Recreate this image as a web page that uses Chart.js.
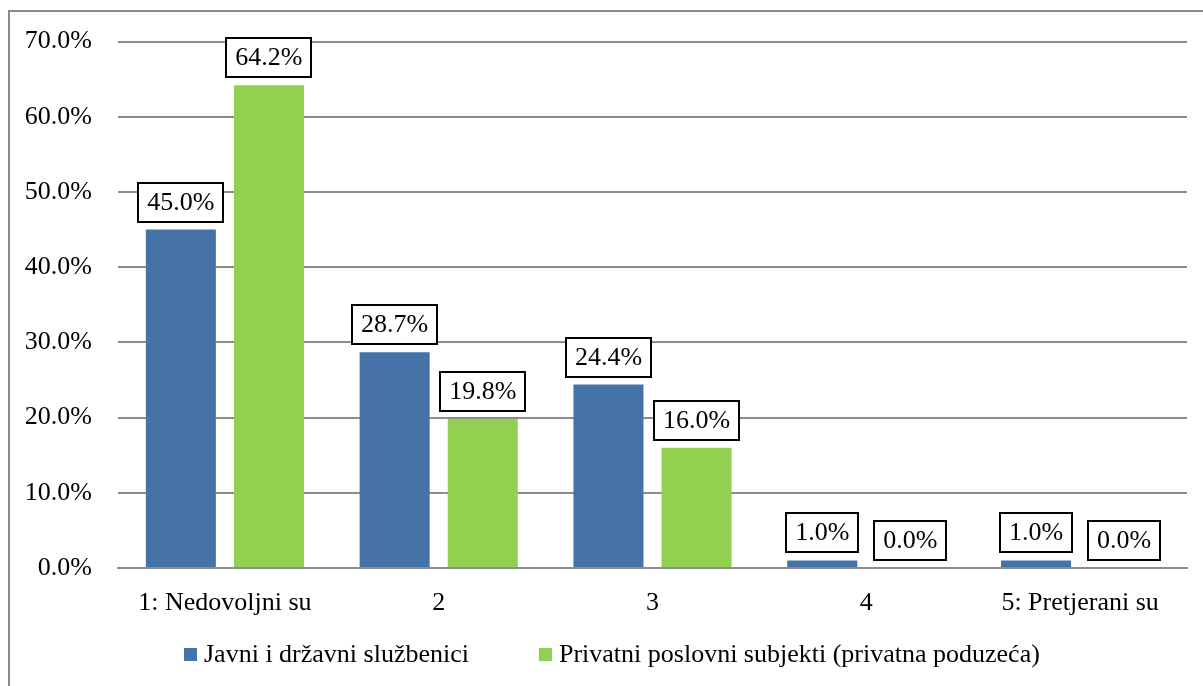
<!DOCTYPE html>
<html>
<head>
<meta charset="utf-8">
<script src="https://cdn.jsdelivr.net/npm/chart.js@4/dist/chart.umd.min.js"></script>
<style>
  html, body { margin: 0; padding: 0; background: #fff; }
  canvas { display: block; }
</style>
</head>
<body>
<canvas id="ocjene" width="1203" height="686"></canvas>
<script>
const categories = ['1: Nedovoljni su', '2', '3', '4', '5: Pretjerani su'];
const seriesNames = ['Javni i državni službenici', 'Privatni poslovni subjekti (privatna poduzeća)'];
const javni = [45.0, 28.7, 24.4, 1.0, 1.0];
const privatni = [64.2, 19.8, 16.0, 0.0, 0.0];
const yTicks = [0, 10, 20, 30, 40, 50, 60, 70];

const FONT = '"Liberation Serif", "Times New Roman", serif';
const FONT_SIZE = 26;
const GRID = '#8c8c8c';

// grey frame around the whole chart (left and top edges)
const frame = {
  id: 'frame',
  beforeDraw(chart) {
    const ctx = chart.ctx;
    ctx.save();
    ctx.strokeStyle = GRID;
    ctx.lineWidth = 2;
    ctx.beginPath();
    ctx.moveTo(9, chart.height + 5);
    ctx.lineTo(9, 11);
    ctx.lineTo(chart.width + 5, 11);
    ctx.stroke();
    ctx.restore();
  }
};

// boxed value label above every bar
const valueBoxes = {
  id: 'valueBoxes',
  afterDatasetsDraw(chart) {
    const ctx = chart.ctx;
    ctx.save();
    ctx.font = FONT_SIZE + 'px ' + FONT;
    ctx.textAlign = 'center';
    ctx.textBaseline = 'middle';
    chart.data.datasets.forEach((ds, di) => {
      chart.getDatasetMeta(di).data.forEach((bar, i) => {
        const text = ds.data[i].toFixed(1) + '%';
        const w = Math.round(ctx.measureText(text).width + 18);
        const h = 39;
        const bottom = Math.round(bar.y - 8);
        const left = Math.round(bar.x - w / 2);
        ctx.fillStyle = '#fff';
        ctx.fillRect(left, bottom - h, w, h);
        ctx.lineWidth = 2;
        ctx.strokeStyle = '#000';
        ctx.strokeRect(left, bottom - h, w, h);
        ctx.fillStyle = '#000';
        ctx.fillText(text, bar.x, bottom - h / 2 + 1);
      });
    });
    ctx.restore();
  }
};

// single-row legend under the axis, spaced wider than the built-in one allows
const legendRow = {
  id: 'legendRow',
  afterDraw(chart) {
    const ctx = chart.ctx;
    const box = 13, textGap = 7, itemGap = 70;
    ctx.save();
    ctx.font = FONT_SIZE + 'px ' + FONT;
    ctx.textBaseline = 'middle';
    const cy = chart.chartArea.bottom + 86;
    let x = chart.chartArea.left + 66;
    chart.data.datasets.forEach(ds => {
      ctx.fillStyle = ds.backgroundColor;
      ctx.fillRect(x, Math.round(cy - box / 2), box, box);
      ctx.fillStyle = '#000';
      ctx.fillText(ds.label, x + box + textGap, cy + 1);
      x += box + textGap + ctx.measureText(ds.label).width + itemGap;
    });
    ctx.restore();
  }
};

new Chart(document.getElementById('ocjene'), {
  type: 'bar',
  data: {
    labels: categories,
    datasets: [
      {
        label: seriesNames[0],
        data: javni,
        backgroundColor: '#4572a7',
        categoryPercentage: 0.824,
        barPercentage: 0.795
      },
      {
        label: seriesNames[1],
        data: privatni,
        backgroundColor: '#92d050',
        categoryPercentage: 0.824,
        barPercentage: 0.795
      }
    ]
  },
  plugins: [frame, valueBoxes, legendRow],
  options: {
    responsive: false,
    animation: false,
    layout: { padding: { left: 10, right: 16, top: 41, bottom: 62 } },
    plugins: {
      tooltip: { enabled: false },
      legend: { display: false }
    },
    scales: {
      x: {
        grid: { display: false },
        border: { display: true, color: GRID, width: 2 },
        ticks: {
          color: '#000',
          padding: 12,
          maxRotation: 0,
          font: { family: FONT, size: FONT_SIZE }
        },
        afterFit(scale) { scale.height = 56; }
      },
      y: {
        min: 0,
        max: 70,
        afterBuildTicks(scale) { scale.ticks = yTicks.map(v => ({ value: v })); },
        grid: { color: GRID, lineWidth: 2, drawTicks: false },
        border: { display: false },
        ticks: {
          color: '#000',
          padding: 26,
          font: { family: FONT, size: FONT_SIZE },
          callback: v => v.toFixed(1) + '%'
        },
        afterFit(scale) { scale.width = 108; }
      }
    }
  }
});
</script>
</body>
</html>
